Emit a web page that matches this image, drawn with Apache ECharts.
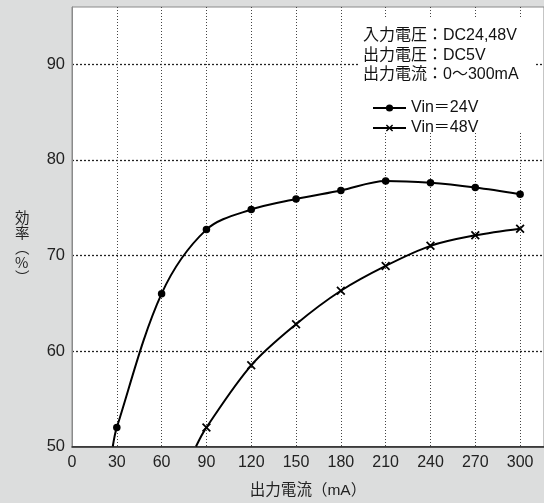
<!DOCTYPE html>
<html><head><meta charset="utf-8">
<script src="https://cdn.jsdelivr.net/npm/echarts@6/dist/echarts.min.js"></script>
<style>html,body{margin:0;padding:0;background:#dcdddd;}#c{width:544px;height:503px;}</style>
</head><body><div id="c"></div>
<script>
const xTicks = [0,30,60,90,120,150,180,210,240,270,300];
const yTicks = [50,60,70,80,90];
const currents24 = [27.3,30,60,90,120,150,180,210,240,270,300];
const eff24      = [50,52.0,66.0,72.7,74.8,75.9,76.8,77.8,77.6,77.1,76.4];
const currents48 = [83,90,120,150,180,210,240,270,300];
const eff48      = [50,52.0,58.5,62.8,66.3,68.9,71.0,72.1,72.8];
const seriesNames = ['Vin＝24V','Vin＝48V'];
const noteLines = ['入力電圧：DC24,48V','出力電圧：DC5V','出力電流：0〜300mA'];
const xName = '出力電流（mA）';
const yName = '効\n率\n︵\n%\n︶';

const font = '"Liberation Sans","Noto Sans CJK JP",sans-serif';
const cjk = '"Noto Sans CJK JP",sans-serif';
const crossPath = 'path://M0,1.4L1.4,0L5,3.6L8.6,0L10,1.4L6.4,5L10,8.6L8.6,10L5,6.4L1.4,10L0,8.6L3.6,5Z';

function mk(xs, ys){
  return xs.map((x,i)=> (ys[i]===50 && i===0) ? {value:[x,ys[i]], symbol:'none'} : [x,ys[i]]);
}

const chart = echarts.init(document.getElementById('c'), null, {renderer:'canvas'});
chart.setOption({
  backgroundColor:'#dcdddd',
  animation:false,
  textStyle:{fontFamily:font},
  grid:{left:72,right:0,top:7,bottom:54,show:true,backgroundColor:'#fff',borderColor:'#8a8a8a',borderWidth:1},
  xAxis:{type:'value',min:0,max:316,interval:30,
    axisLine:{show:true,lineStyle:{color:'#222',width:1.5}},
    axisTick:{show:false},
    axisLabel:{color:'#222',fontSize:16,margin:8,showMaxLabel:false,fontFamily:font,
      formatter:v=>xTicks.includes(v)?String(v):''},
    splitLine:{show:true,showMinLine:false,showMaxLine:false,lineStyle:{color:'#444',type:[1,2],width:1}},
    name:xName,nameLocation:'middle',nameGap:36,nameTextStyle:{color:'#222',fontSize:15.5,fontFamily:font}
  },
  yAxis:{type:'value',min:50,max:96,interval:10,
    axisLine:{show:true,lineStyle:{color:'#8a8a8a',width:1}},
    axisTick:{show:false},
    axisLabel:{color:'#222',fontSize:16.5,margin:7,showMaxLabel:false,fontFamily:font,
      formatter:v=>yTicks.includes(v)?String(v):''},
    splitLine:{show:true,showMinLine:false,showMaxLine:false,lineStyle:{color:'#222',type:[2,2],width:1.3}}
  },
  legend:{show:true,orient:'vertical',left:367,top:95,itemWidth:33,itemHeight:9,itemGap:4,z:20,
    textStyle:{color:'#111',fontSize:16,fontFamily:font},
    data:seriesNames},
  graphic:[
    {type:'rect',z:10,shape:{x:360,y:17,width:175,height:116},style:{fill:'#fff'}},
    {type:'text',z:11,left:363,top:26,style:{text:noteLines.join('\n'),fontSize:16,lineHeight:19.5,fill:'#111',fontFamily:font}},
    {type:'text',z:11,left:15,top:210,style:{text:yName,fontSize:14.5,lineHeight:15,fill:'#222',align:'center',fontFamily:cjk}}
  ],
  series:[
    {name:seriesNames[0],type:'line',smooth:0.33,data:mk(currents24,eff24),symbol:'circle',symbolSize:7.5,
      lineStyle:{color:'#000',width:2},itemStyle:{color:'#000'},z:5},
    {name:seriesNames[1],type:'line',smooth:0.33,data:mk(currents48,eff48),symbol:crossPath,symbolSize:9,
      lineStyle:{color:'#000',width:2},itemStyle:{color:'#000'},z:5}
  ]
});
</script></body></html>
